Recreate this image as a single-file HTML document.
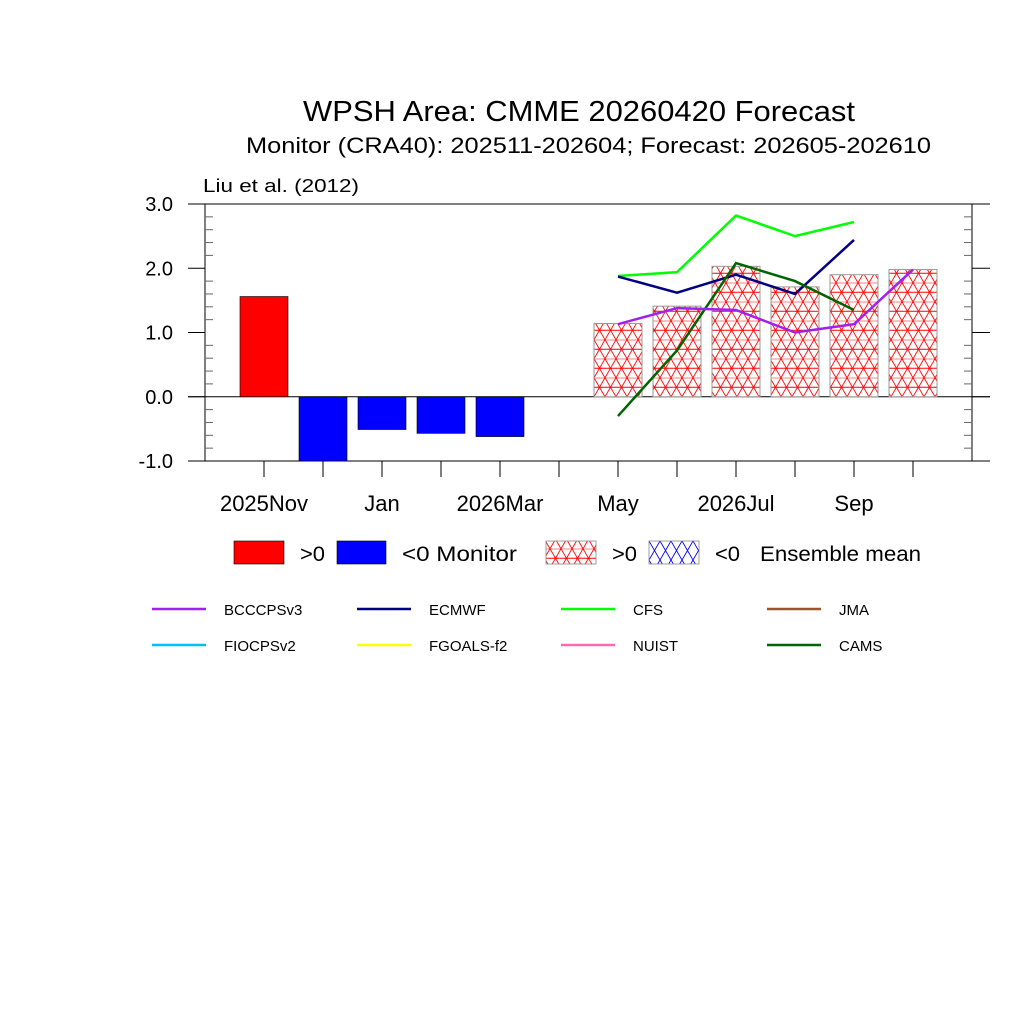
<!DOCTYPE html>
<html><head><meta charset="utf-8"><style>
body{margin:0;background:#fff}
svg text{font-family:"Liberation Sans",sans-serif}
</style></head><body>
<svg width="1024" height="1024" viewBox="0 0 1024 1024">
<defs>
<pattern id="hr" width="11" height="19" patternUnits="userSpaceOnUse" x="0" y="396.75">
<rect width="11" height="19" fill="#fff"/>
<path d="M0 0H11M0 9.5H11M0 0L11 19M11 0L0 19" stroke="#f00" stroke-width="0.9" fill="none"/>
</pattern>
<pattern id="hb" width="11" height="19" patternUnits="userSpaceOnUse" x="0" y="541">
<rect width="11" height="19" fill="#fff"/>
<path d="M0 0L11 19M11 0L0 19" stroke="#00f" stroke-width="0.9" fill="none"/>
</pattern>
</defs>
<text x="303" y="121" font-size="29" textLength="552" lengthAdjust="spacingAndGlyphs">WPSH Area: CMME 20260420 Forecast</text>
<text x="246" y="153" font-size="22" textLength="685" lengthAdjust="spacingAndGlyphs">Monitor (CRA40): 202511-202604; Forecast: 202605-202610</text>
<text x="203" y="192" font-size="18" textLength="156" lengthAdjust="spacingAndGlyphs">Liu et al. (2012)</text>
<g id="plot"></g>
<g font-size="21">
<rect x="234" y="541" width="50" height="23" fill="#f00" stroke="#000" stroke-width="0.6"/>
<text x="300" y="561" textLength="25" lengthAdjust="spacingAndGlyphs">&gt;0</text>
<rect x="337" y="541" width="49" height="23" fill="#00f" stroke="#000" stroke-width="0.6"/>
<text x="402" y="561" textLength="115" lengthAdjust="spacingAndGlyphs">&lt;0  Monitor</text>
<rect x="546" y="541" width="50" height="23" fill="url(#hr)" stroke="#888" stroke-width="0.8"/>
<text x="612" y="561" textLength="25" lengthAdjust="spacingAndGlyphs">&gt;0</text>
<rect x="649" y="541" width="50" height="23" fill="url(#hb)" stroke="#888" stroke-width="0.8"/>
<text x="715" y="561" textLength="25" lengthAdjust="spacingAndGlyphs">&lt;0</text>
<text x="760" y="561" textLength="161" lengthAdjust="spacingAndGlyphs">Ensemble mean</text>
</g>
<g id="lineleg" font-size="15"></g>
</svg>
<script>
const months = ["Nov","Dec","Jan","Feb","Mar","Apr","May","Jun","Jul","Aug","Sep","Oct"];
const xLabels = ["2025Nov","","Jan","","2026Mar","","May","","2026Jul","","Sep",""];
const yTicks = [-1,0,1,2,3];
const monitorValues = [1.56,-1.0,-0.51,-0.57,-0.62];
const ensembleValues = [1.14,1.41,2.03,1.71,1.9,1.98];
const bcccps = [1.13,1.38,1.35,1.0,1.13,1.98];
const ecmwf = [1.87,1.62,1.9,1.6,2.44];
const cfs = [1.88,1.94,2.82,2.5,2.72];
const cams = [-0.3,0.72,2.08,1.8,1.35];
const ns="http://www.w3.org/2000/svg";
const L=205,R=972,T=204,B=461;
const X=i=>L+(i+1)*(R-L)/13;
const Y=v=>B-(v+1)*(B-T)/4;
const plot=document.getElementById('plot');
function mk(t,a,p){const e=document.createElementNS(ns,t);for(const k in a)e.setAttribute(k,a[k]);(p||plot).appendChild(e);return e;}
let e=mk('rect',{x:L,y:T,width:R-L,height:B-T,fill:'none',stroke:'#000','stroke-width':1});


yTicks.forEach(v=>{
  mk('line',{x1:188,x2:L,y1:Y(v),y2:Y(v),stroke:'#000'});
  mk('line',{x1:R,x2:990,y1:Y(v),y2:Y(v),stroke:'#000'});
  const t=mk('text',{x:173,y:Y(v)+7,'font-size':20,'text-anchor':'end'});
  t.textContent=v.toFixed(1);
  
  
});
for(let v=-1;v<3;v+=0.2){ if(Math.abs(v-Math.round(v))<1e-6)continue;
  mk('line',{x1:L,x2:L+8,y1:Y(v),y2:Y(v),stroke:'#666'});
  mk('line',{x1:R-8,x2:R,y1:Y(v),y2:Y(v),stroke:'#666'});
}
mk('line',{x1:188,x2:990,y1:Y(0),y2:Y(0),stroke:'#000'});
months.forEach((m,i)=>{
  mk('line',{x1:X(i),x2:X(i),y1:B,y2:B+16,stroke:'#000'});
  if(xLabels[i]){const t=mk('text',{x:X(i),y:511,'font-size':22,'text-anchor':'middle'});t.textContent=xLabels[i];
  
  }
});
const bw=48;
monitorValues.forEach((v,i)=>{
  const y0=Y(Math.max(v,0)),h=Math.abs(Y(v)-Y(0));
  const b=mk('rect',{x:X(i)-bw/2,y:y0,width:bw,height:h,fill:v>=0?'#f00':'#00f',stroke:'#000','stroke-width':0.6});
  
  
});
ensembleValues.forEach((v,i)=>{
  const y0=Y(Math.max(v,0)),h=Math.abs(Y(v)-Y(0));
  const b=mk('rect',{x:X(i+6)-bw/2,y:y0,width:bw,height:h,fill:v>=0?'url(#hr)':'url(#hb)',stroke:'#999','stroke-width':1});
  
  
});
function line(vals,col,name){
  const p=mk('polyline',{points:vals.map((v,i)=>X(i+6)+','+Y(v)).join(' '),fill:'none',stroke:col,'stroke-width':2.5});
  
  
}
line(cfs,'#00ff00','cfs');
line(ecmwf,'#000080','ecmwf');
line(cams,'#006400','cams');
line(bcccps,'#a020f0','bcccpsv3');
const lg=document.getElementById('lineleg');
const items=[["BCCCPSv3","#a020f0",152,609],["ECMWF","#000080",357,609],["CFS","#00ff00",561,609],["JMA","#a0522d",767,609],
["FIOCPSv2","#00bfff",152,645],["FGOALS-f2","#ffff00",357,645],["NUIST","#ff69b4",561,645],["CAMS","#006400",767,645]];
items.forEach(it=>{
  const g=mk('g',{},lg);
  
  
  mk('line',{x1:it[2],x2:it[2]+54,y1:it[3],y2:it[3],stroke:it[1],'stroke-width':2.5},g);
  const t=mk('text',{x:it[2]+72,y:it[3]+6},g);t.textContent=it[0];
});
</script>
</body></html>
